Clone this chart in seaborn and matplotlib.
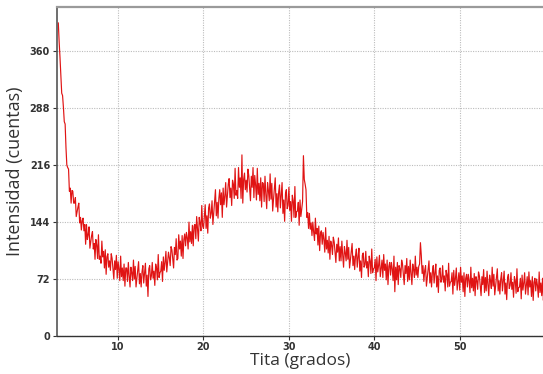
import numpy as np
import matplotlib
matplotlib.use("Agg")
import matplotlib.pyplot as plt
import seaborn as sns
from matplotlib.ticker import MultipleLocator

# diffractogram, one reading every 0.1 degree from 3.0 to 60.0
start_angle = 3.0
step_angle = 0.1
intensity = [
    396, 372, 352, 329, 307, 304, 289, 271, 268, 238,   # 3
    216, 213, 211, 183, 187, 168, 184, 183, 168, 168,   # 4
    175, 151, 157, 163, 168, 143, 150, 134, 146, 149,   # 5
    133, 141, 116, 141, 122, 128, 138, 111, 119, 127,   # 6
    132, 110, 117, 97, 122, 115, 98, 128, 97, 101,      # 7
    92, 120, 100, 107, 86, 109, 78, 100, 104, 87,       # 8
    95, 83, 104, 98, 85, 72, 95, 84, 102, 73,           # 9
    94, 85, 70, 101, 75, 86, 70, 91, 63, 86,            # 10
    86, 69, 93, 76, 62, 87, 80, 70, 96, 72,             # 11
    88, 62, 73, 84, 94, 66, 79, 62, 81, 89,             # 12
    67, 80, 92, 63, 77, 50, 85, 89, 71, 76,             # 13
    93, 73, 82, 64, 91, 86, 71, 103, 74, 80,            # 14
    82, 94, 69, 100, 83, 93, 107, 81, 94, 106,          # 15
    99, 89, 113, 109, 97, 86, 112, 103, 123, 96,        # 16
    98, 128, 110, 120, 101, 127, 98, 122, 129, 114,     # 17
    131, 124, 110, 144, 119, 132, 117, 140, 114, 139,   # 18
    141, 123, 151, 135, 120, 150, 143, 133, 165, 139,   # 19
    136, 151, 166, 136, 152, 130, 162, 167, 149, 155,   # 20
    171, 141, 155, 170, 185, 152, 169, 149, 174, 185,   # 21
    166, 181, 150, 187, 166, 177, 194, 163, 177, 192,   # 22
    199, 175, 187, 165, 197, 192, 174, 212, 178, 184,   # 23
    174, 213, 188, 200, 174, 229, 168, 198, 206, 185,   # 24
    197, 182, 211, 203, 186, 171, 202, 188, 213, 175,   # 25
    203, 191, 172, 212, 179, 193, 171, 200, 163, 194,   # 26
    193, 170, 202, 179, 161, 194, 184, 171, 205, 173,   # 27
    193, 158, 173, 186, 200, 163, 180, 157, 182, 191,   # 28
    162, 178, 194, 155, 172, 145, 180, 185, 161, 165,   # 29
    188, 159, 170, 145, 178, 171, 150, 189, 150, 157,   # 30
    158, 169, 140, 172, 151, 160, 170, 228, 198, 192,   # 31
    185, 150, 156, 136, 155, 135, 143, 127, 144, 131,   # 32
    121, 149, 129, 136, 115, 139, 108, 130, 133, 116,   # 33
    131, 122, 106, 137, 110, 121, 105, 126, 97, 120,    # 34
    115, 103, 125, 119, 106, 93, 116, 106, 124, 95,     # 35
    113, 95, 120, 102, 87, 113, 105, 95, 121, 97,       # 36
    112, 86, 96, 107, 117, 89, 101, 84, 102, 110,       # 37
    87, 100, 111, 82, 95, 74, 102, 105, 87, 90,         # 38
    107, 86, 94, 75, 101, 95, 79, 110, 80, 85,          # 39
    86, 97, 70, 100, 81, 89, 102, 75, 85, 96,           # 40
    74, 103, 83, 91, 71, 96, 65, 88, 93, 77,            # 41
    93, 85, 70, 101, 56, 87, 71, 93, 65, 89,            # 42
    85, 74, 96, 91, 78, 65, 89, 79, 98, 69,             # 43
    88, 71, 96, 79, 65, 91, 84, 74, 101, 77,            # 44
    87, 74, 88, 91, 118, 102, 79, 89, 69, 83,           # 45
    89, 63, 74, 84, 95, 67, 80, 62, 81, 89,             # 46
    67, 80, 91, 62, 76, 55, 83, 86, 68, 72,             # 47
    89, 68, 76, 57, 83, 78, 62, 92, 63, 68,             # 48
    69, 80, 53, 83, 64, 73, 86, 58, 69, 80,             # 49
    58, 87, 68, 76, 56, 80, 50, 73, 78, 62,             # 50
    78, 70, 55, 87, 61, 73, 57, 79, 51, 75,             # 51
    70, 59, 81, 76, 63, 51, 75, 65, 84, 55,             # 52
    74, 57, 82, 65, 51, 77, 70, 60, 87, 63,             # 53
    78, 52, 63, 74, 85, 57, 70, 53, 72, 80,             # 54
    57, 70, 82, 53, 67, 46, 74, 78, 60, 64,             # 55
    80, 59, 68, 49, 75, 70, 54, 85, 56, 61,             # 56
    62, 73, 47, 77, 58, 67, 80, 53, 64, 75,             # 57
    52, 81, 62, 70, 50, 75, 45, 68, 73, 57,             # 58
    72, 64, 49, 81, 55, 67, 51, 73, 45, 69,             # 59
    62,                                                 # 60
]
two_theta = start_angle + step_angle * np.arange(len(intensity))

y_ticks = [0, 72, 144, 216, 288, 360]
x_ticks = [10, 20, 30, 40, 50]

sns.set_style("white")
plt.rcParams['font.family'] = ['Open Sans', 'DejaVu Sans']

fig = plt.figure(figsize=(5.43, 3.74), dpi=100)
ax = fig.add_axes([0.105, 0.1016, 0.895, 0.8797])

sns.lineplot(x=two_theta, y=intensity, ax=ax, color='#e01414', linewidth=0.85, sort=False)

ax.set_xlim(2.85, 59.75)
ax.set_ylim(0, 416)
ax.set_xticks(x_ticks)
ax.set_yticks(y_ticks)
ax.xaxis.set_minor_locator(MultipleLocator(2))
ax.grid(True, which='major', color='#bcbcbc', linestyle=(0, (1, 1.2)), linewidth=0.8)

ax.tick_params(axis='both', which='major', direction='out', length=3, width=0.8,
               colors='#333333', labelsize=7, pad=1.5)
ax.tick_params(axis='x', which='minor', direction='out', length=2.5, width=0.8, color='#555555')
ax.tick_params(axis='x', which='major', bottom=True)
ax.tick_params(axis='y', which='major', left=True, pad=2)
for lab in ax.get_xticklabels() + ax.get_yticklabels():
    lab.set_fontweight('bold')
    lab.set_family(['DejaVu Sans'])

ax.spines['right'].set_visible(False)
ax.spines['top'].set_color('#9a9a9a')
ax.spines['top'].set_linewidth(1.6)
ax.spines['left'].set_color('#555555')
ax.spines['left'].set_linewidth(1.2)
ax.spines['bottom'].set_color('#333333')
ax.spines['bottom'].set_linewidth(1.0)

ax.set_xlabel('Tita (grados)', fontsize=12.5, color='#333333', labelpad=0.5)
ax.set_ylabel('Intensidad (cuentas)', fontsize=13, color='#333333', labelpad=4)

fig.savefig('out.png', dpi=100)
